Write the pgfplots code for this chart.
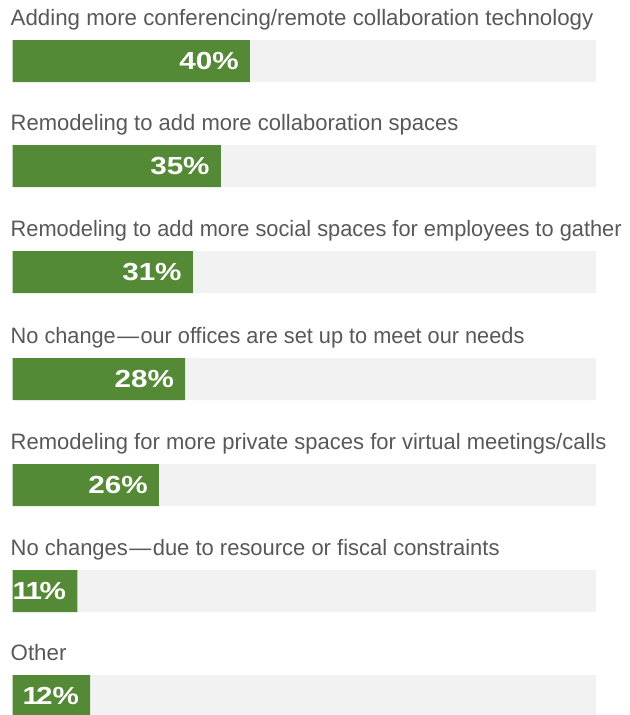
\documentclass[border=0pt]{standalone}
\usepackage{pgfplots}
\pgfplotsset{compat=1.18}
\usepackage{pgfplotstable}
\usepackage{fontspec}
\setmainfont{Liberation Sans}
\definecolor{barg}{RGB}{84,137,53}
\definecolor{bgg}{RGB}{241,242,241}
\definecolor{txt}{RGB}{88,88,88}
\newcommand{\catfont}{\fontsize{22.3bp}{26bp}\selectfont}
\newcommand{\pctfont}{\fontsize{24.7bp}{28bp}\selectfont\bfseries}
\newcommand{\cat}[2]{\scalebox{#1}[1]{#2}}

% x = drawn bar length (percent of the grey track), y = bar centre (px from top)
\pgfplotstableread{
x     bg   y    label
40.7  100  61   40
35.7  100  166  35
30.9  100  272  31
29.6  100  379  28
25.1  100  485  26
11.1  100  591  1\kern-3bp1\kern-2bp
13.3  100  696  1\kern-2.5bp2
}\data

\begin{document}
\begin{tikzpicture}
\useasboundingbox (0,0) rectangle (630bp,715bp);
\begin{axis}[
  scale only axis, width=583.5bp, height=715bp,
  at={(12.5bp,715bp)}, anchor=north west,
  xmin=0, xmax=100, ymin=0, ymax=715, y dir=reverse,
  hide axis, clip=false,
  xbar, bar width=42bp, bar shift=0pt,
]
\addplot[fill=bgg, draw=none] table[x=bg, y=y] \data;
\addplot[fill=barg, draw=none,
  point meta=explicit symbolic,
  nodes near coords={\scalebox{1.2}[1]{\pctfont\pgfplotspointmeta\%}},
  every node near coord/.append style={anchor=east, xshift=-11bp, text=white, inner sep=0pt},
] table[x=x, y=y, meta=label] \data;

\begin{scope}[every node/.style={anchor=base west, inner sep=0pt, text=txt, font=\catfont, xshift=-2bp}]
\node at (axis cs:0,25)  {Adding more conferencing/remote collaboration technology};
\node at (axis cs:0,130) {\cat{0.987}{Remodeling to add more collaboration spaces}};
\node at (axis cs:0,236) {\cat{0.978}{Remodeling to add more social spaces for employees to gather}};
\node at (axis cs:0,343) {\cat{0.975}{No change\kern1.5bp—\kern1.5bp our offices are set up to meet our needs}};
\node at (axis cs:0,449) {\cat{0.987}{Remodeling for more private spaces for virtual meetings/calls}};
\node at (axis cs:0,555) {\cat{0.985}{No changes\kern1.5bp—\kern1.5bp due to resource or fiscal constraints}};
\node at (axis cs:0,660) {Other};
\end{scope}
\end{axis}
\end{tikzpicture}
\end{document}
